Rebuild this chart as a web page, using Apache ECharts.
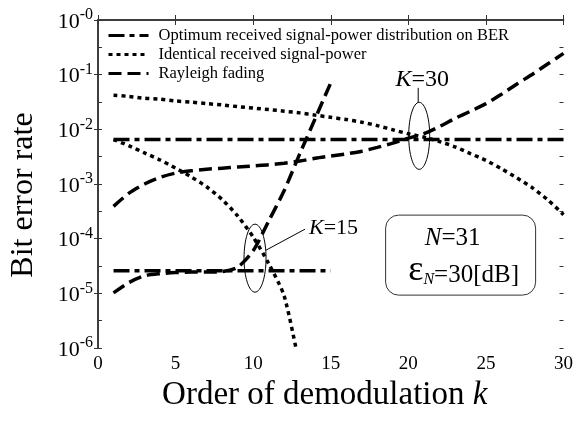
<!DOCTYPE html>
<html><head><meta charset="utf-8">
<script src="https://cdn.jsdelivr.net/npm/echarts@6/dist/echarts.min.js"></script>
<style>html,body{margin:0;padding:0;background:#fff}#c{width:576px;height:423px}</style>
</head><body><div id="c"></div>
<script>
// ---------- data ----------
const kOrder30 = [1,2,3,4,5,6,7,8,9,10,11,12,13,14,15,16,17,18,19,20,21,22,23,24,25,26,27,28,29,30];
const kOrder15 = [1,2,3,4,5,6,7,8,9,10,11,12,13,14,15];
const kOrder13 = [1,2,3,4,5,6,7,8,9,10,11,12,13];
const optimumX30 = [1, 30];
const optimumK30 = [6.5e-3, 6.5e-3];
const optimumX15 = [1, 15];
const optimumK15 = [2.6e-5, 2.6e-5];
const identicalK30 = [4.2e-2,4.0e-2,3.7e-2,3.55e-2,3.3e-2,3.15e-2,2.95e-2,2.8e-2,2.6e-2,2.45e-2,
  2.3e-2,2.15e-2,2.0e-2,1.82e-2,1.66e-2,1.51e-2,1.35e-2,1.17e-2,9.8e-3,8.3e-3,
  7.2e-3,6.0e-3,4.8e-3,3.6e-3,2.7e-3,1.9e-3,1.29e-3,8.5e-4,5.1e-4,2.75e-4];
const identicalK15 = [6.5e-3,5.0e-3,3.7e-3,2.75e-3,1.95e-3,1.35e-3,8.9e-4,5.2e-4,2.6e-4,1.07e-4,3.5e-5,8.9e-6,4.5e-7];
const rayleighK30 = [3.9e-4,6.8e-4,1.0e-3,1.32e-3,1.58e-3,1.74e-3,1.86e-3,1.95e-3,2.04e-3,2.14e-3,
  2.24e-3,2.4e-3,2.63e-3,2.95e-3,3.24e-3,3.55e-3,3.98e-3,4.68e-3,5.6e-3,6.9e-3,
  8.3e-3,1.12e-2,1.58e-2,2.14e-2,2.95e-2,4.37e-2,6.76e-2,1.02e-1,1.58e-1,2.45e-1];
const rayleighK15 = [1.02e-5,1.58e-5,2.09e-5,2.29e-5,2.4e-5,2.45e-5,2.45e-5,2.5e-5,3.0e-5,6.0e-5,2.1e-4,7.6e-4,3.55e-3,1.58e-2,7.1e-2];
const xTicks = [0, 5, 10, 15, 20, 25, 30];
const yExpMin = -6, yExpMax = 0, yTickStepExp = 0.5;   // ticks every half decade
const S1 = 'Optimum received signal-power distribution on BER';
const S2 = 'Identical received signal-power';
const S3 = 'Rayleigh fading';
// annotation anchors (data space)
const annotK30 = [20.7, 7.6e-3];
const annotK15 = [10.12, 4.4e-5];
const annotBox = [23.37, 5.0e-5];

// ---------- chart ----------
const FONT = 'Liberation Serif';
const chart = echarts.init(document.getElementById('c'));
const pairs = (xs, ys) => ys.map((y, i) => [xs[i], y]);
const dashDot = [16, 5, 5, 5], dotted = [4, 4], dashed = [13, 6];
function mk(name, xs, ys, type, smooth) {
  return { name, type: 'line', data: pairs(xs, ys), symbol: 'none', smooth: smooth || false,
    color: '#000', lineStyle: { color: '#000', width: 3.5, type, cap: 'butt' }, z: 3 };
}
const axisLine = { show: true, lineStyle: { color: '#333', width: 1.5 } };
const tickStyle = { color: '#333', width: 1 };
const yLabelFmt = v => {
  const e = Math.round(Math.log10(v));
  return '{b|10}{s|' + (e === 0 ? '-0' : String(e)) + '}';
};
const tickOverlay = pos => ({ type: 'value', position: pos, min: yExpMin, max: yExpMax, interval: yTickStepExp,
  axisLine: { show: false }, splitLine: { show: false }, axisLabel: { show: false },
  axisTick: { inside: true, length: 4, lineStyle: tickStyle } });
const option = {
  backgroundColor: '#fff',
  animation: false,
  grid: { left: 96, right: 10, top: 20, bottom: 75 },
  legend: {
    orient: 'vertical', left: 102, top: 22, itemWidth: 40, itemHeight: 12, itemGap: 2,
    selectedMode: false, data: [S1, S2, S3],
    itemStyle: { opacity: 0 }, lineStyle: { width: 3 },
    textStyle: { fontFamily: FONT, fontSize: 16.5, color: '#000', padding: [0, 0, 0, 5] }
  },
  xAxis: [
    { type: 'value', min: 0, max: 30, interval: 5, position: 'bottom',
      name: '{a|Order of demodulation }{i|k}', nameLocation: 'middle', nameGap: 30,
      nameTextStyle: { padding: [0, 12, 0, 0], rich: {
        a: { fontFamily: FONT, fontSize: 33, color: '#000' },
        i: { fontFamily: FONT, fontSize: 33, fontStyle: 'italic', color: '#000' } } },
      axisLine, splitLine: { show: false },
      axisTick: { inside: true, length: 5, lineStyle: tickStyle },
      axisLabel: { fontFamily: FONT, fontSize: 19, color: '#000', margin: 7,
        customValues: xTicks } },
    { type: 'value', min: 0, max: 30, interval: 5, position: 'top',
      axisLine, splitLine: { show: false },
      axisTick: { inside: true, length: 5, lineStyle: tickStyle },
      axisLabel: { show: false } }
  ],
  yAxis: [
    { type: 'log', logBase: 10, min: 1e-6, max: 1, position: 'left',
      name: 'Bit error rate', nameLocation: 'middle', nameGap: 58,
      nameTextStyle: { fontFamily: FONT, fontSize: 32, color: '#000', padding: [0, 22, 0, 0] },
      axisLine, splitLine: { show: false },
      axisTick: { inside: true, length: 4, lineStyle: tickStyle },
      axisLabel: { margin: 5, formatter: yLabelFmt, rich: {
        b: { fontFamily: FONT, fontSize: 22, color: '#000', verticalAlign: 'bottom' },
        s: { fontFamily: FONT, fontSize: 16, color: '#000', verticalAlign: 'bottom', padding: [0, 0, 10, 0] } } } },
    { type: 'log', logBase: 10, min: 1e-6, max: 1, position: 'right',
      axisLine, splitLine: { show: false },
      axisTick: { inside: true, length: 4, lineStyle: tickStyle },
      axisLabel: { show: false } },
    tickOverlay('left'),
    tickOverlay('right')
  ],
  series: [
    mk(S1, optimumX30, optimumK30, dashDot),
    mk(S1, optimumX15, optimumK15, dashDot),
    mk(S2, kOrder30, identicalK30, dotted, 0.25),
    mk(S2, kOrder13, identicalK15, dotted, 0.25),
    mk(S3, kOrder30, rayleighK30, dashed, 0.25),
    mk(S3, kOrder15, rayleighK15, dashed, 0.25)
  ]
};
chart.setOption(option);

// annotations anchored to data coordinates
const px = p => chart.convertToPixel({ xAxisIndex: 0, yAxisIndex: 0 }, p);
const a30 = px(annotK30), a15 = px(annotK15), bx = px(annotBox);
const thin = { stroke: '#000', lineWidth: 1, fill: null };
chart.setOption({
  graphic: [
    { type: 'ellipse', shape: { cx: a30[0], cy: a30[1], rx: 10.5, ry: 33.5 }, style: thin, z: 10 },
    { type: 'line', shape: { x1: a30[0] - 1, y1: a30[1] - 33.5, x2: a30[0] - 1, y2: a30[1] - 48 }, style: thin, z: 10 },
    { type: 'text', x: a30[0] + 3, y: a30[1] - 56, z: 10,
      style: { text: '{i|K}{t|=30}', align: 'center', verticalAlign: 'middle',
        rich: { i: { fontFamily: FONT, fontSize: 24, fontStyle: 'italic', fill: '#000' },
                t: { fontFamily: FONT, fontSize: 24, fill: '#000' } } } },
    { type: 'ellipse', shape: { cx: a15[0], cy: a15[1], rx: 11, ry: 34 }, style: thin, z: 10 },
    { type: 'line', shape: { x1: a15[0] + 11, y1: a15[1] - 8, x2: a15[0] + 50, y2: a15[1] - 29 }, style: thin, z: 10 },
    { type: 'text', x: a15[0] + 54, y: a15[1] - 30, z: 10,
      style: { text: '{i|K}{t|=15}', align: 'left', verticalAlign: 'middle',
        rich: { i: { fontFamily: FONT, fontSize: 22, fontStyle: 'italic', fill: '#000' },
                t: { fontFamily: FONT, fontSize: 22, fill: '#000' } } } },
    { type: 'rect', shape: { x: bx[0] - 75, y: bx[1] - 40, width: 150, height: 80, r: 13 },
      style: { stroke: '#333', lineWidth: 1, fill: '#fff' }, z: 9 },
    { type: 'text', x: bx[0] - 8, y: bx[1] - 17, z: 10,
      style: { text: '{i|N}{t|=31}', align: 'center', verticalAlign: 'middle',
        rich: { i: { fontFamily: FONT, fontSize: 25, fontStyle: 'italic', fill: '#000' },
                t: { fontFamily: FONT, fontSize: 25, fill: '#000' } } } },
    { type: 'text', x: bx[0] + 3, y: bx[1] + 15, z: 10,
      style: { text: '{e|ε}{n|N}{t|=30[dB]}', align: 'center', verticalAlign: 'middle',
        rich: { e: { fontFamily: FONT, fontSize: 36, fill: '#000', verticalAlign: 'bottom' },
                n: { fontFamily: FONT, fontSize: 16, fontStyle: 'italic', fill: '#000', verticalAlign: 'bottom' },
                t: { fontFamily: FONT, fontSize: 25, fill: '#000', verticalAlign: 'bottom' } } } }
  ]
});
</script>
</body></html>
